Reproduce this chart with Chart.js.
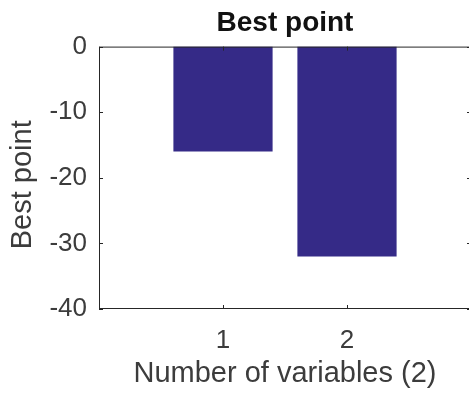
<!DOCTYPE html>
<html>
<head>
<meta charset="utf-8">
<script src="https://cdn.jsdelivr.net/npm/chart.js@4"></script>
<style>
  html, body { margin: 0; padding: 0; overflow: hidden; background: #fff; }
  #wrap { width: 480px; height: 398px; }
</style>
</head>
<body>
<div id="wrap"><canvas id="grafico" width="480" height="398"></canvas></div>
<script>
// datos del grafico
const categories = [1, 2];
const bestValues = [-16, -32];
const xTickLabels = ['1', '2'];
const yTickValues = [0, -10, -20, -30, -40];

const axisColor = '#262626';
const textColor = '#3c3c3c';
const barColor = '#352a87';
const fontFam = 'Liberation Sans';
const yTitle = 'Best point';

// caja, marcas hacia dentro y titulo del eje y, estilo MATLAB
const boxPlugin = {
  id: 'boxPlugin',
  afterLayout(chart) {
    // centrar el titulo sobre el area del grafico
    chart.titleBlock.left = chart.chartArea.left;
    chart.titleBlock.right = chart.chartArea.right;
  },
  afterDraw(chart) {
    const { ctx, chartArea: a, scales } = chart;
    ctx.save();
    ctx.strokeStyle = axisColor;
    ctx.lineWidth = 1;
    ctx.beginPath();
    ctx.moveTo(a.left + 0.5, a.top + 0.5);
    ctx.lineTo(a.right, a.top + 0.5);
    ctx.moveTo(a.right - 0.5, a.top);
    ctx.lineTo(a.right - 0.5, a.bottom);
    ctx.moveTo(a.left + 0.5, a.top);
    ctx.lineTo(a.left + 0.5, a.bottom);
    ctx.moveTo(a.left, a.bottom - 0.5);
    ctx.lineTo(a.right, a.bottom - 0.5);
    const t = 4;
    yTickValues.forEach(v => {
      const y = Math.round(scales.y.getPixelForValue(v)) + 0.5;
      ctx.moveTo(a.left, y); ctx.lineTo(a.left + t, y);
      ctx.moveTo(a.right, y); ctx.lineTo(a.right - t, y);
    });
    categories.forEach(c => {
      const x = Math.round(scales.x.getPixelForValue(c)) + 0.5;
      ctx.moveTo(x, a.bottom); ctx.lineTo(x, a.bottom - t);
      ctx.moveTo(x, a.top); ctx.lineTo(x, a.top + t);
    });
    ctx.stroke();

    // titulo del eje y
    ctx.translate(23, (a.top + a.bottom) / 2 + 7);
    ctx.rotate(-Math.PI / 2);
    ctx.fillStyle = textColor;
    ctx.font = '29px "' + fontFam + '"';
    ctx.textAlign = 'center';
    ctx.textBaseline = 'middle';
    ctx.fillText(yTitle, 0, 0);
    ctx.restore();
  }
};

const ctx = document.getElementById('grafico').getContext('2d');
new Chart(ctx, {
  type: 'bar',
  data: {
    datasets: [{
      data: categories.map((c, i) => ({ x: c, y: bestValues[i] })),
      backgroundColor: barColor,
      borderWidth: 0,
      barPercentage: 0.8,
      categoryPercentage: 1
    }]
  },
  options: {
    responsive: false,
    animation: false,
    layout: { padding: { top: 0, right: 9, left: 0, bottom: 0 } },
    plugins: {
      legend: { display: false },
      tooltip: { enabled: false },
      title: {
        display: true,
        text: 'Best point',
        color: '#111',
        font: { family: fontFam, size: 28, weight: 'bold' },
        padding: { top: 6, bottom: 7 }
      }
    },
    scales: {
      x: {
        type: 'linear',
        min: 0,
        max: 3,
        offset: false,
        ticks: {
          stepSize: 1,
          color: textColor,
          font: { family: fontFam, size: 26 },
          padding: 16,
          maxRotation: 0,
          callback: (v) => xTickLabels[categories.indexOf(v)] ?? ''
        },
        afterBuildTicks: (s) => { s.ticks = s.ticks.filter(t => categories.includes(t.value)); },
        afterFit: (s) => { s.height = 89; },
        grid: { display: false, drawTicks: false, offset: false },
        border: { display: false },
        title: {
          display: true,
          text: 'Number of variables (2)',
          color: textColor,
          font: { family: fontFam, size: 29 },
          padding: { top: 0, bottom: 7 }
        }
      },
      y: {
        min: -40,
        max: 0,
        ticks: {
          stepSize: 10,
          color: textColor,
          font: { family: fontFam, size: 26 },
          padding: 12
        },
        afterFit: (s) => { s.width = 99; },
        grid: { display: false, drawTicks: false },
        border: { display: false },
        title: { display: false }
      }
    }
  },
  plugins: [boxPlugin]
});
</script>
</body>
</html>
